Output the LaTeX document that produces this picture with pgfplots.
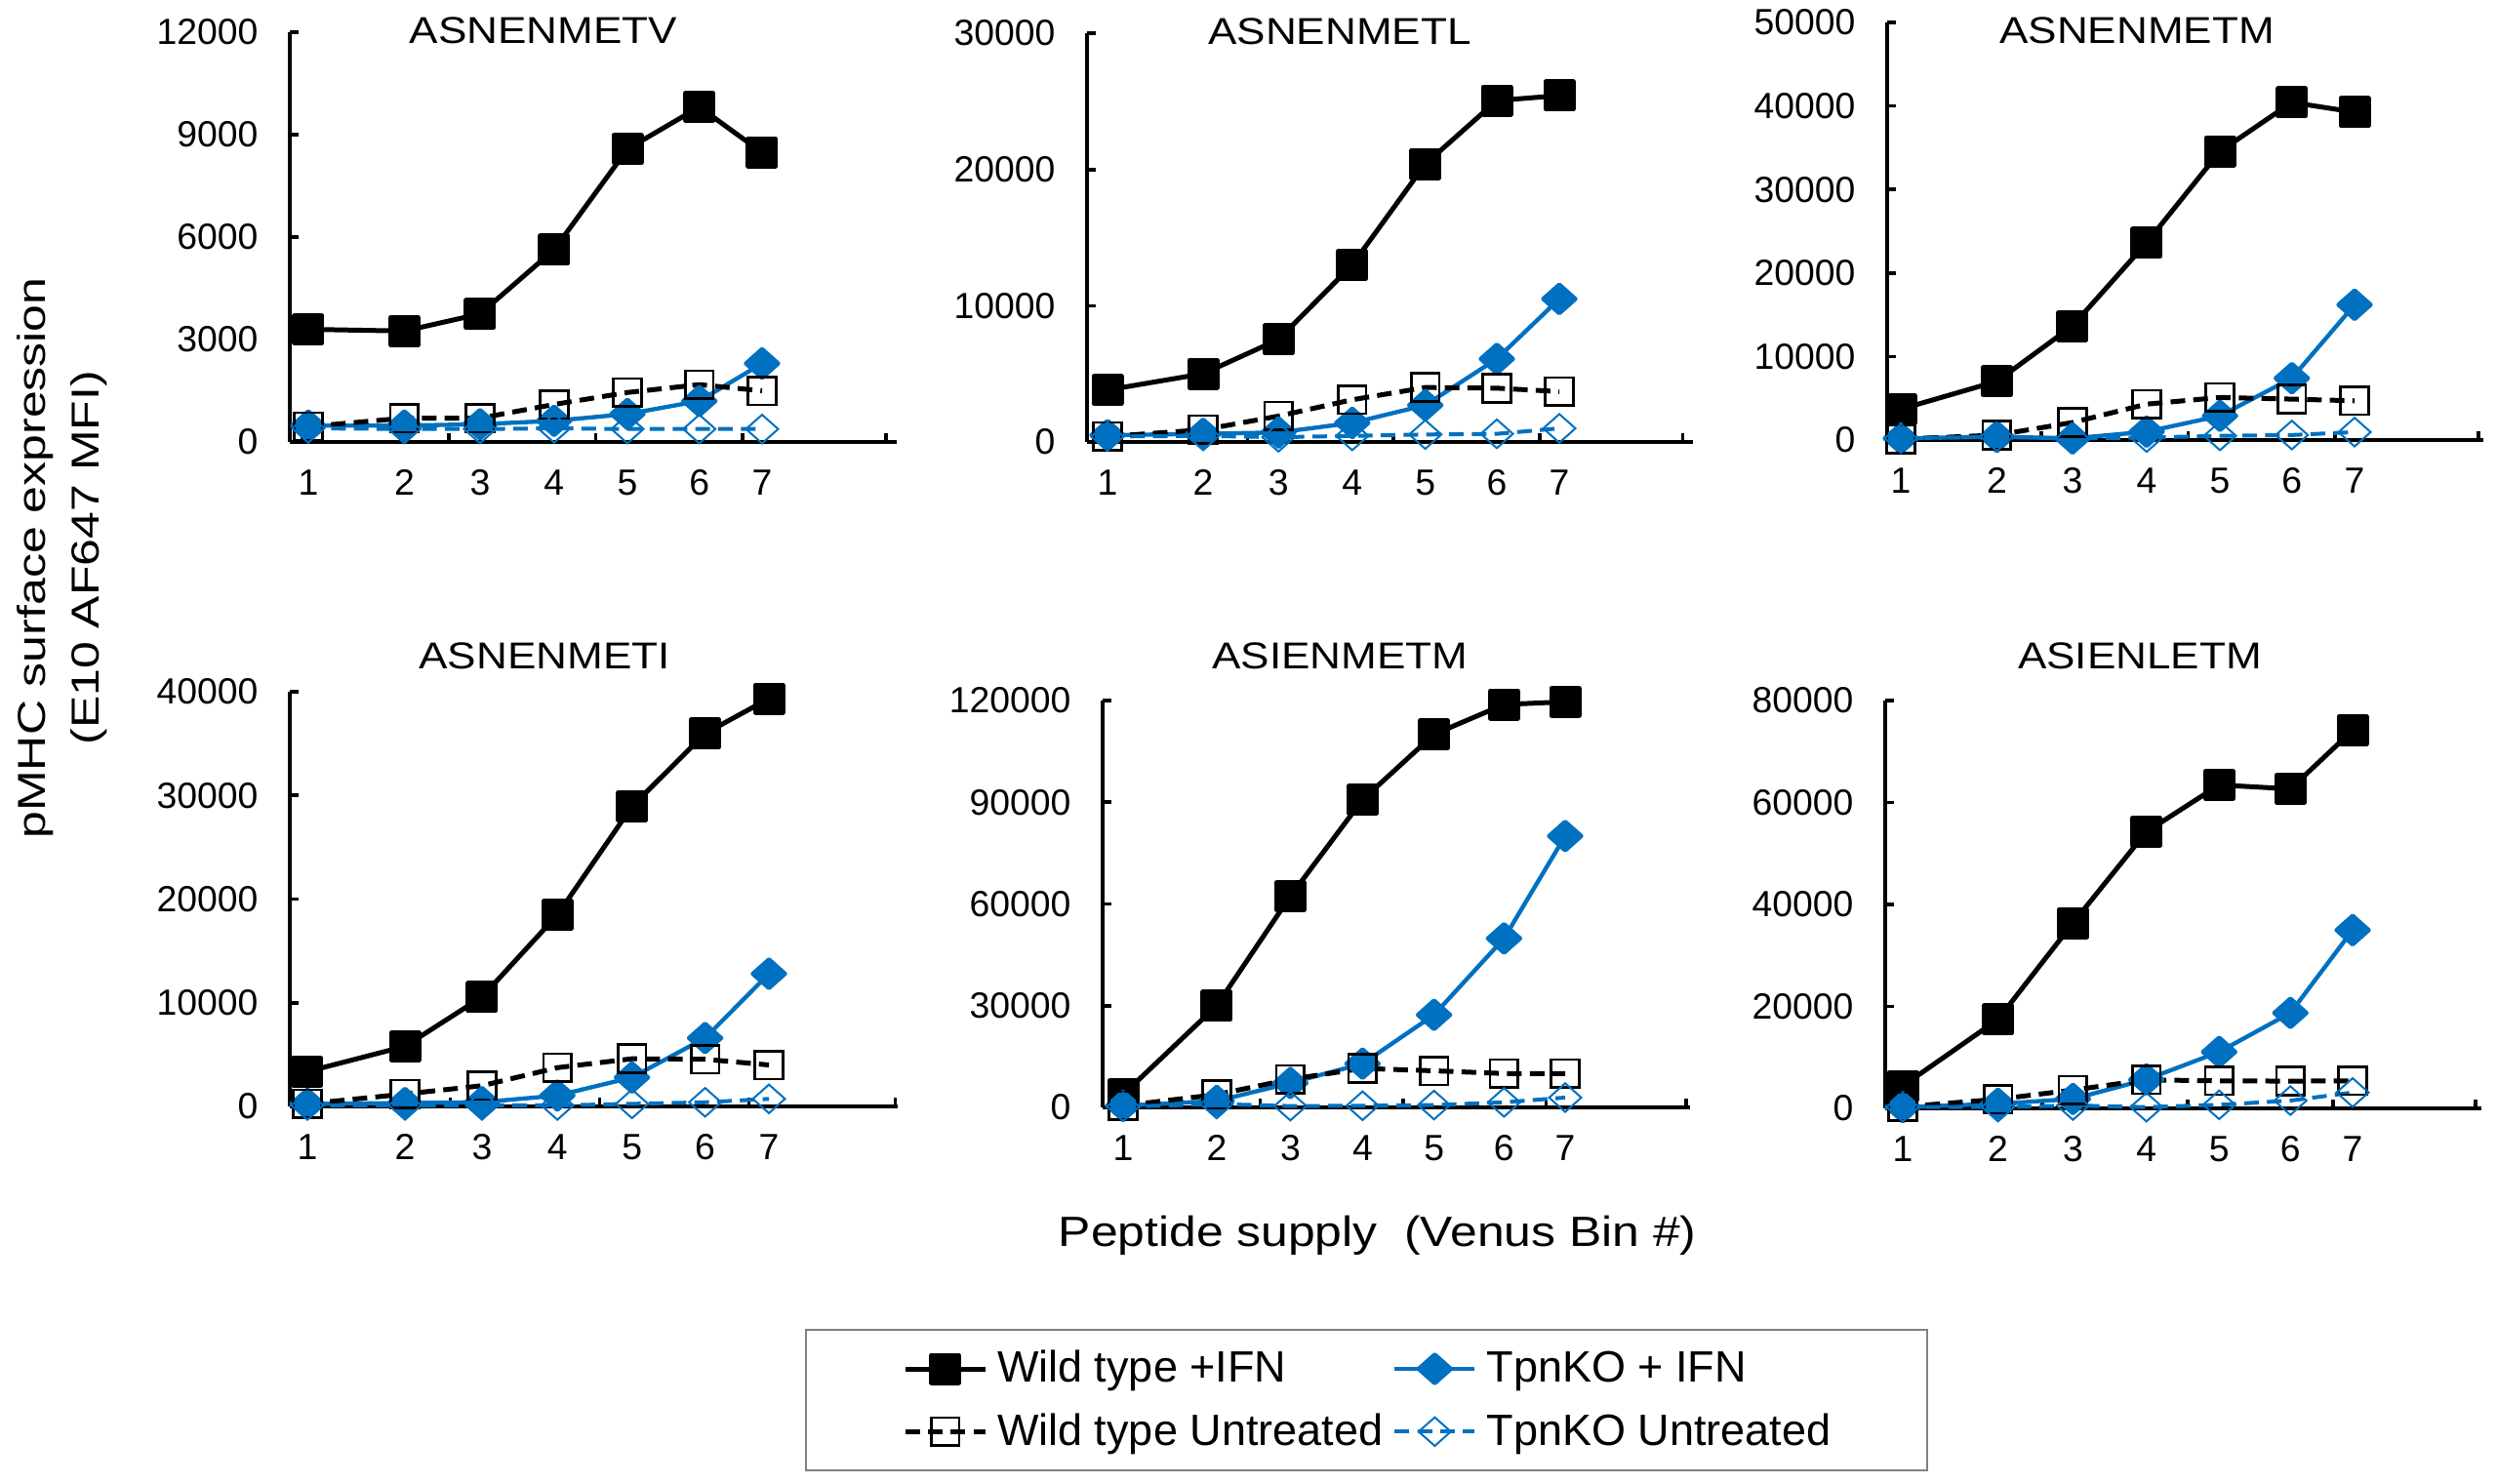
\documentclass[border=0pt]{standalone}
\usepackage{pgfplots}
\pgfplotsset{compat=1.18}
\usepackage{pgfplotstable}
\usepackage{fontspec}
\setmainfont{Liberation Sans}
\newfontfamily\stretchfont{Liberation Sans}[FakeStretch=1.15]
\newfontfamily\ylabfont{Liberation Sans}[FakeStretch=1.25]
\definecolor{kblue}{RGB}{0,112,192}
\definecolor{lgray}{RGB}{128,128,128}

% x positions of the seven Venus bins
\pgfplotstableread{
x A B C D
1 3300 480 450 400
2.27 3250 480 700 380
3.27 3750 520 700 380
4.25 5630 620 1100 400
5.22 8580 820 1450 380
6.17 9810 1200 1680 380
7 8480 2300 1500 380
}\pA
\pgfplotstableread{
x A B C D
1 3820 500 400 400
2.27 5010 600 900 450
3.27 7520 700 1900 350
4.25 13000 1400 3100 450
5.22 20400 2700 4000 550
6.17 25060 6100 3950 600
7 25420 10500 3700 1000
}\pB
\pgfplotstableread{
x A B C D
1 3700 200 100 200
2.27 7030 400 600 400
3.27 13670 200 2100 200
4.25 23630 1000 4300 300
5.22 34570 2900 5100 500
6.17 40430 7400 4900 600
7 39260 16200 4700 950
}\pC
\pgfplotstableread{
x A B C D
1 3360 250 250 100
2.27 5800 320 1200 100
3.27 10560 410 2000 100
4.25 18480 1050 3740 100
5.22 28940 2800 4600 250
6.17 35980 6600 4550 400
7 39340 12800 4000 730
}\pD
\pgfplotstableread{
x A B C D
1 3800 500 500 200
2.27 30000 1900 3800 1000
3.27 62300 7200 8300 400
4.25 90770 12900 11500 500
5.22 110040 27300 10800 700
6.17 118850 49840 10000 1500
7 119620 80040 10000 2900
}\pE
\pgfplotstableread{
x A B C D
1 4400 260 300 250
2.27 17450 900 1800 250
3.27 36370 1850 3600 570
4.25 54270 5670 5600 250
5.22 63450 11080 5400 700
6.17 62680 18730 5350 1530
7 74150 34970 5400 3120
}\pF

\pgfplotsset{
  wtifn/.style={black, line width=1.5pt, line join=round, mark=square*, mark size=4.2pt, mark options={solid}},
  koifn/.style={kblue, line width=1.3pt, line join=round, mark=diamond*, mark size=4.4pt, mark options={solid, xscale=1.5}},
  wtun/.style={black, line width=1.5pt, dash pattern=on 4.5pt off 2.5pt, mark=square, mark size=4.3pt, mark options={solid, line width=0.8pt}},
  koun/.style={kblue, line width=1.2pt, dash pattern=on 4.5pt off 2.5pt, mark=diamond, mark size=4.4pt, mark options={solid, line width=0.6pt, xscale=1.5}},
  panel/.style={
    scale only axis, clip=false, anchor=south west,
    axis x line*=bottom, axis y line*=left,
    axis line style={line width=1.1pt, black},
    tick align=inside,
    major tick length=2.7pt,
    every tick/.style={black, line width=1.1pt},
    xtick={0.92,2.86,4.80,6.74,8.64}, xticklabels={},
    extra x ticks={1,2.27,3.27,4.25,5.22,6.17,7},
    extra x tick labels={1,2,3,4,5,6,7},
    extra x tick style={grid=none, major tick length=0pt},
    ymin=0,
    scaled y ticks=false,
    yticklabel style={/pgf/number format/fixed, /pgf/number format/1000 sep={}},
    /pgf/number format/assume math mode=true,
    tick label style={font=\fontsize{11.2}{13}\selectfont},
    xticklabel style={anchor=north, inner sep=0pt, yshift=-8.4pt},
    yticklabel style={anchor=east, inner sep=0pt, xshift=-9.6pt},
    title style={font=\stretchfont\fontsize{11.5}{13}\selectfont, anchor=base},
  },
}

\begin{document}
\begin{tikzpicture}
\useasboundingbox (0pt,0pt) rectangle (767.7pt,-456pt);

% Panel 1
\begin{axis}[panel, at={(89.1pt,-135.9pt)}, width=186.6pt, height=126pt,
  xmin=0.755, xmax=8.781, ymax=12000, ytick={0,3000,6000,9000,12000},
  title={ASNENMETV}, title style={at={(axis description cs:0.418,1)}, yshift=-9.4pt},
  ylabel={pMHC surface expression\\(E10 AF647 MFI)},
  ylabel style={at={(axis description cs:-0.375,-0.283)}, anchor=center, align=center,
    font=\ylabfont\fontsize{12}{16.5}\selectfont}]
\addplot[wtifn] table[x=x,y=A]{\pA};
\addplot[koifn] table[x=x,y=B]{\pA};
\addplot[wtun] table[x=x,y=C]{\pA};
\addplot[koun] table[x=x,y=D]{\pA};
\end{axis}

% Panel 2
\begin{axis}[panel, at={(334.2pt,-135.9pt)}, width=186.3pt, height=125.7pt,
  xmin=0.728, xmax=8.775, ymax=30000, ytick={0,10000,20000,30000},
  title={ASNENMETL}, title style={at={(axis description cs:0.417,1)}, yshift=-9.4pt}]
\addplot[wtifn] table[x=x,y=A]{\pB};
\addplot[koifn] table[x=x,y=B]{\pB};
\addplot[wtun] table[x=x,y=C]{\pB};
\addplot[koun] table[x=x,y=D]{\pB};
\end{axis}

% Panel 3
\begin{axis}[panel, at={(580.2pt,-135.3pt)}, width=183.3pt, height=128.4pt,
  xmin=0.819, xmax=8.703, ymax=50000, ytick={0,10000,20000,30000,40000,50000},
  title={ASNENMETM}, title style={at={(axis description cs:0.419,1)}, yshift=-12.5pt}]
\addplot[wtifn] table[x=x,y=A]{\pC};
\addplot[koifn] table[x=x,y=B]{\pC};
\addplot[wtun] table[x=x,y=C]{\pC};
\addplot[koun] table[x=x,y=D]{\pC};
\end{axis}

% Panel 4
\begin{axis}[panel, at={(89.1pt,-340.2pt)}, width=186.9pt, height=127.5pt,
  xmin=0.772, xmax=8.674, ymax=40000, ytick={0,10000,20000,30000,40000},
  title={ASNENMETI}, title style={at={(axis description cs:0.419,1)}, yshift=1.2pt}]
\addplot[wtifn] table[x=x,y=A]{\pD};
\addplot[koifn] table[x=x,y=B]{\pD};
\addplot[wtun] table[x=x,y=C]{\pD};
\addplot[koun] table[x=x,y=D]{\pD};
\end{axis}

% Panel 5
\begin{axis}[panel, at={(339pt,-340.5pt)}, width=180.6pt, height=125.1pt,
  xmin=0.722, xmax=8.695, ymax=120000, ytick={0,30000,60000,90000,120000},
  title={ASIENMETM}, title style={at={(axis description cs:0.404,1)}, yshift=3.9pt},
  xlabel={Peptide supply\ \ (Venus Bin \#)},
  xlabel style={at={(axis description cs:0.468,0)}, anchor=base, yshift=-42.6pt,
    font=\stretchfont\fontsize{13}{15}\selectfont},
  legend columns=2, legend cell align=left,
  legend style={at={(axis description cs:-0.5066,-0.5444)}, anchor=north west,
    draw=lgray, line width=0.6pt, inner xsep=29.7pt, inner ysep=6.35pt,
    column sep=3pt, row sep=8pt, nodes={inner sep=0pt},
    font=\fontsize{13.5}{16}\selectfont},
  legend image code/.code={\draw[mark repeat=2,mark phase=2,#1] plot coordinates {(0pt,0pt) (12.3pt,0pt) (24.6pt,0pt)};}]
\addplot[wtifn] table[x=x,y=A]{\pE};
\addlegendentry{Wild type +IFN}
\addplot[koifn] table[x=x,y=B]{\pE};
\addlegendentry{TpnKO + IFN}
\addplot[wtun] table[x=x,y=C]{\pE};
\addlegendentry{Wild type Untreated}
\addplot[koun] table[x=x,y=D]{\pE};
\addlegendentry{TpnKO Untreated\hspace{9.9pt}}
\end{axis}

% Panel 6
\begin{axis}[panel, at={(579.6pt,-340.8pt)}, width=183.3pt, height=125.4pt,
  xmin=0.766, xmax=8.718, ymax=80000, ytick={0,20000,40000,60000,80000},
  title={ASIENLETM}, title style={at={(axis description cs:0.427,1)}, yshift=3.9pt}]
\addplot[wtifn] table[x=x,y=A]{\pF};
\addplot[koifn] table[x=x,y=B]{\pF};
\addplot[wtun] table[x=x,y=C]{\pF};
\addplot[koun] table[x=x,y=D]{\pF};
\end{axis}
\end{tikzpicture}
\end{document}
